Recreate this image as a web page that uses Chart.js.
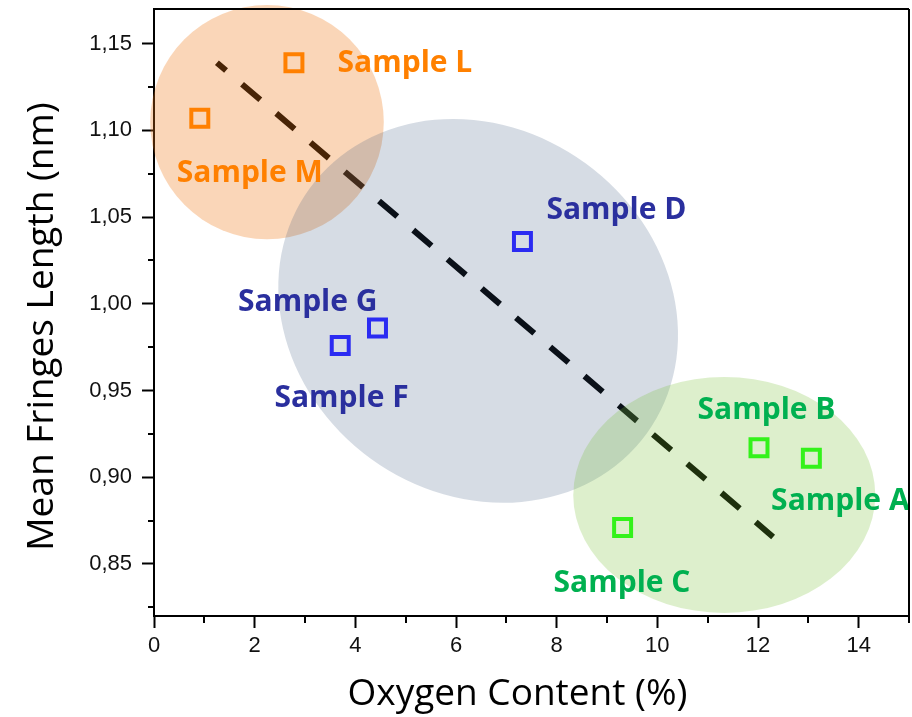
<!DOCTYPE html>
<html>
<head>
<meta charset="utf-8">
<title>Mean fringe length vs oxygen content</title>
<script src="https://cdn.jsdelivr.net/npm/chart.js@4.4.1/dist/chart.umd.min.js"></script>
<style>
  html, body { margin: 0; padding: 0; background: #fff; }
  #wrap { width: 912px; height: 717px; position: relative; }
</style>
</head>
<body>
<div id="wrap"><canvas id="chart"></canvas></div>
<script>
// Samples: oxygen content (%) and mean fringe length (nm)
const sampleNames   = ['Sample A', 'Sample B', 'Sample C', 'Sample D', 'Sample F', 'Sample G', 'Sample L', 'Sample M'];
const oxygenContent = [13.06, 12.02, 9.31, 7.32, 3.70, 4.44, 2.78, 0.91];
const fringeLength  = [0.911, 0.917, 0.871, 1.036, 0.976, 0.986, 1.139, 1.107];
const sampleGroup   = ['green', 'green', 'green', 'blue', 'blue', 'blue', 'orange', 'orange'];

// Linear trend drawn across the samples
const trendX = [1.25, 12.30];
const trendY = [1.139, 0.8656];

// Axis ticks
const xMajorTicks = [0, 2, 4, 6, 8, 10, 12, 14];
const xMinorTicks = [1, 3, 5, 7, 9, 11, 13, 15];
const yMajorTicks = [0.85, 0.90, 0.95, 1.00, 1.05, 1.10, 1.15];
const yMinorTicks = [0.825, 0.875, 0.925, 0.975, 1.025, 1.075, 1.125];

const groupStyle = {
  orange: { marker: '#FF8000', text: '#FF8000' },
  blue:   { marker: '#2B2BF2', text: '#2A2F9E' },
  green:  { marker: '#33F21A', text: '#00B050' }
};

function groupData(g) {
  const out = [];
  sampleNames.forEach((n, i) => {
    if (sampleGroup[i] === g) out.push({ x: oxygenContent[i], y: fringeLength[i], name: n });
  });
  return out;
}

// Translucent cluster regions, laid over the trend line
const clusterPlugin = {
  id: 'clusters',
  afterDatasetDraw(chart, args, opts) {
    if (chart.data.datasets[args.index].id !== 'trend') return;
    const { ctx, scales: { x, y } } = chart;
    ctx.save();
    for (const c of opts.regions) {
      const px = x.getPixelForValue(c.cx), py = y.getPixelForValue(c.cy);
      const rx = Math.abs(x.getPixelForValue(c.cx + c.rx) - px);
      const ry = Math.abs(y.getPixelForValue(c.cy + c.ry) - py);
      ctx.beginPath();
      ctx.ellipse(px, py, rx, ry, (c.tilt || 0) * Math.PI / 180, 0, Math.PI * 2);
      ctx.fillStyle = c.fill;
      ctx.fill();
    }
    ctx.restore();
  }
};

// Sample name labels next to each marker
const labelPlugin = {
  id: 'sampleLabels',
  afterDatasetsDraw(chart, args, opts) {
    const { ctx, scales: { x, y } } = chart;
    ctx.save();
    ctx.font = opts.font;
    ctx.textAlign = 'center';
    ctx.textBaseline = 'alphabetic';
    sampleNames.forEach((n, i) => {
      const off = opts.offsets[n];
      ctx.fillStyle = groupStyle[sampleGroup[i]].text;
      ctx.fillText(n, x.getPixelForValue(oxygenContent[i]) + off[0], y.getPixelForValue(fringeLength[i]) + off[1]);
    });
    ctx.restore();
  }
};

// Minor ticks, closing frame and axis titles
const framePlugin = {
  id: 'frame',
  afterDraw(chart, args, opts) {
    const { ctx, chartArea: a, scales: { x, y } } = chart;
    ctx.save();
    ctx.strokeStyle = '#000';
    ctx.lineWidth = 2;
    ctx.beginPath();
    for (const v of yMinorTicks) {
      const py = Math.round(y.getPixelForValue(v));
      ctx.moveTo(a.left - 6, py); ctx.lineTo(a.left, py);
    }
    for (const v of xMinorTicks) {
      const px = Math.round(x.getPixelForValue(v));
      ctx.moveTo(px, a.bottom); ctx.lineTo(px, a.bottom + 7);
    }
    ctx.moveTo(a.left, a.top); ctx.lineTo(a.right, a.top);
    ctx.moveTo(a.right, a.top); ctx.lineTo(a.right, a.bottom);
    ctx.stroke();

    ctx.fillStyle = '#000';
    ctx.font = opts.titleFont;
    ctx.textAlign = 'center';
    ctx.textBaseline = 'alphabetic';
    ctx.fillText(opts.xTitle, (a.left + a.right) / 2 - 14, 705);
    ctx.translate(53, (a.top + a.bottom) / 2 + 14);
    ctx.rotate(-Math.PI / 2);
    ctx.fillText(opts.yTitle, 0, 0);
    ctx.restore();
  }
};

const tickFont = { family: '"Liberation Sans", Arial, sans-serif', size: 22 };

// Fixed axis sizes; no extra room reserved for edge labels
function fixAxis(s, size) {
  if (s.isHorizontal()) s.height = size; else s.width = size;
  s.paddingTop = 0; s.paddingBottom = 0; s.paddingLeft = 0; s.paddingRight = 0;
}

new Chart(document.getElementById('chart'), {
  type: 'scatter',
  data: {
    datasets: [
      {
        id: 'trend',
        type: 'line',
        data: trendX.map((v, i) => ({ x: v, y: trendY[i] })),
        borderColor: '#000',
        borderWidth: 6,
        borderDash: [24, 21],
        borderDashOffset: 12,
        borderCapStyle: 'butt',
        pointRadius: 0,
        fill: false,
        order: 10
      },
      ...['orange', 'blue', 'green'].map(g => ({
        label: g,
        data: groupData(g),
        pointStyle: 'rect',
        pointRadius: 12,
        pointBorderWidth: 4,
        borderColor: groupStyle[g].marker,
        backgroundColor: 'rgba(0,0,0,0)',
        order: 0
      }))
    ]
  },
  options: {
    responsive: true,
    maintainAspectRatio: false,
    animation: false,
    devicePixelRatio: 1,
    layout: { autoPadding: false, padding: { left: 0, right: 3, top: 9, bottom: 0 } },
    plugins: {
      legend: { display: false },
      tooltip: { enabled: false },
      clusters: {
        regions: [
          { cx: 2.245, cy: 1.1048, rx: 2.32, ry: 0.0675, tilt: 0,  fill: 'rgba(240,120,20,0.3)' },
          { cx: 6.44,  cy: 0.9959, rx: 4.14, ry: 0.1053, tilt: 36, fill: 'rgba(50,80,120,0.2)' },
          { cx: 11.33, cy: 0.8898, rx: 3.0,  ry: 0.068,  tilt: 0,  fill: 'rgba(119,191,51,0.25)' }
        ]
      },
      sampleLabels: {
        font: 'bold 30px "Open Sans", sans-serif',
        offsets: {
          'Sample A': [29, 51.5],
          'Sample B': [7.5, -28.4],
          'Sample C': [-0.6, 64.2],
          'Sample D': [94, -22.5],
          'Sample F': [1.3, 61.3],
          'Sample G': [-69.7, -17],
          'Sample L': [111, 9.7],
          'Sample M': [50, 64]
        }
      },
      frame: {
        titleFont: '37px "Open Sans", sans-serif',
        xTitle: 'Oxygen Content (%)',
        yTitle: 'Mean Fringes Length (nm)'
      }
    },
    scales: {
      x: {
        type: 'linear',
        position: 'bottom',
        min: 0,
        max: 15,
        z: 1,
        afterBuildTicks: s => { s.ticks = xMajorTicks.map(v => ({ value: v })); },
        afterFit: s => fixAxis(s, 101),
        ticks: { font: tickFont, color: '#111', padding: 5, maxRotation: 0, callback: v => String(v) },
        grid: { display: true, drawOnChartArea: false, drawTicks: true, tickLength: 12, tickWidth: 2, tickColor: '#000' },
        border: { display: true, color: '#000', width: 2 }
      },
      y: {
        type: 'linear',
        position: 'left',
        min: 0.82,
        max: 1.17,
        z: 1,
        afterBuildTicks: s => { s.ticks = yMajorTicks.map(v => ({ value: v })); },
        afterFit: s => fixAxis(s, 154),
        ticks: { font: tickFont, color: '#111', padding: 10, callback: v => v.toFixed(2).replace('.', ',') },
        grid: { display: true, drawOnChartArea: false, drawTicks: true, tickLength: 12, tickWidth: 2, tickColor: '#000' },
        border: { display: true, color: '#000', width: 2 }
      }
    }
  },
  plugins: [clusterPlugin, labelPlugin, framePlugin]
});
</script>
</body>
</html>
